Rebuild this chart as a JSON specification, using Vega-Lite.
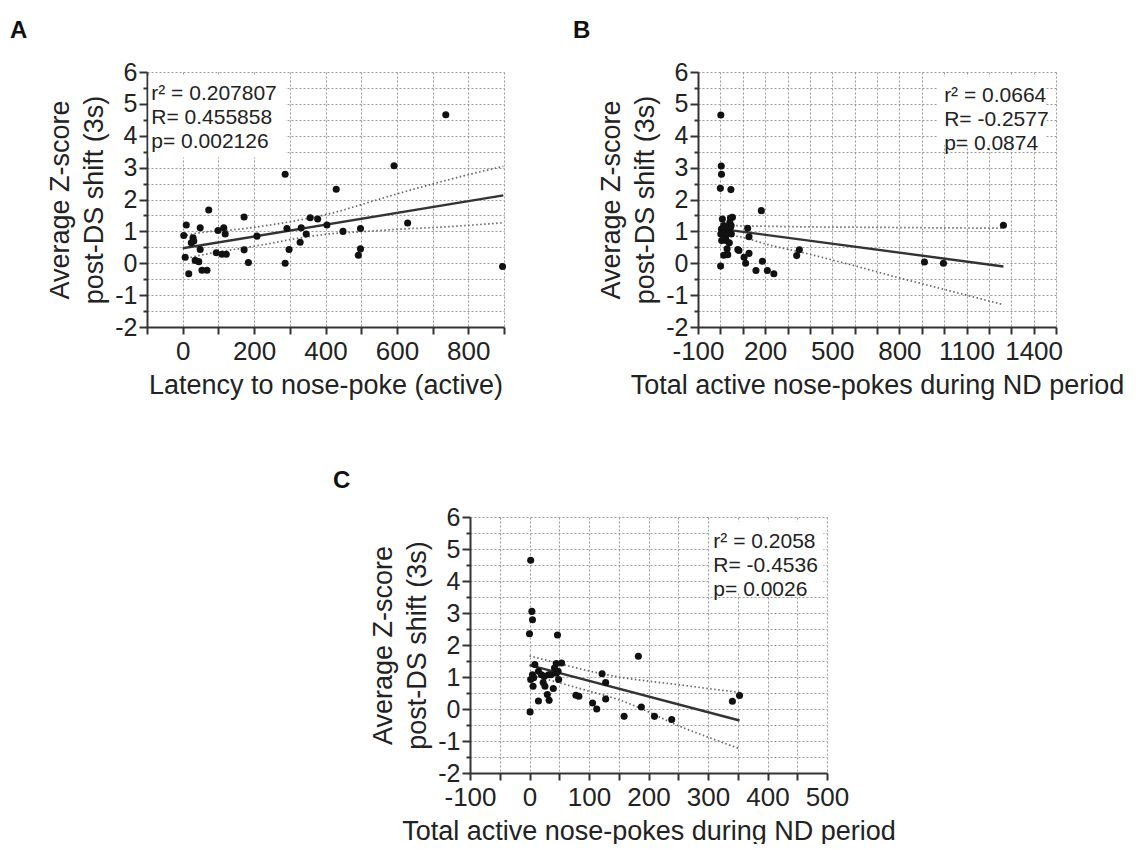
{
  "$schema": "https://vega.github.io/schema/vega-lite/v6.json",
  "padding": {"left": 10, "top": 19, "right": 0, "bottom": 0},
  "autosize": {"type": "pad"},
  "config": {
    "font": "Liberation Sans",
    "view": {"stroke": null},
    "axis": {"domainColor": "#333", "domainWidth": 2, "tickColor": "#333", "tickWidth": 2, "tickSize": 7, "labelFontSize": 26, "labelColor": "#222", "titleFontSize": 27, "titleFontWeight": "normal", "titleColor": "#222", "gridColor": "#999", "gridDash": [2, 2], "gridWidth": 1, "labelPadding": 4, "titlePadding": 8, "labelOverlap": false, "labelFlush": false},
    "axisY": {"labelFontSize": 25, "labelPadding": 2, "titleLineHeight": 34, "titlePadding": 6},
    "title": {"fontSize": 24, "fontWeight": "bold", "color": "#111", "anchor": "start", "frame": "group", "offset": 17}
  },
  "datasets": {
    "a_pts": [
      {"x": 287, "y": 2.79}, {"x": 73, "y": 1.67}, {"x": 172, "y": 1.45}, {"x": 357, "y": 1.43}, {"x": 378, "y": 1.39},
      {"x": 404, "y": 1.2}, {"x": 10, "y": 1.2}, {"x": 49, "y": 1.11}, {"x": 99, "y": 1.03}, {"x": 115, "y": 1.11},
      {"x": 119, "y": 0.92}, {"x": 292, "y": 1.09}, {"x": 332, "y": 1.11}, {"x": 346, "y": 0.92}, {"x": 208, "y": 0.85},
      {"x": 3, "y": 0.87}, {"x": 29, "y": 0.8}, {"x": 31, "y": 0.7}, {"x": 24, "y": 0.64}, {"x": 329, "y": 0.66},
      {"x": 49, "y": 0.43}, {"x": 172, "y": 0.42}, {"x": 298, "y": 0.43}, {"x": 94, "y": 0.33}, {"x": 110, "y": 0.28},
      {"x": 122, "y": 0.28}, {"x": 7, "y": 0.19}, {"x": 35, "y": 0.09}, {"x": 45, "y": 0.05}, {"x": 184, "y": 0.02},
      {"x": 287, "y": 0.0}, {"x": 54, "y": -0.22}, {"x": 68, "y": -0.22}, {"x": 17, "y": -0.33}, {"x": 430, "y": 2.32},
      {"x": 449, "y": 1.0}, {"x": 492, "y": 0.25}, {"x": 498, "y": 0.45}, {"x": 498, "y": 1.09}, {"x": 592, "y": 3.06},
      {"x": 630, "y": 1.26}, {"x": 737, "y": 4.66}, {"x": 896, "y": -0.1}
    ],
    "a_fit": [
      {"x": 0, "y": 0.47, "k": "fit"}, {"x": 898, "y": 2.13, "k": "fit"},
      {"x": 0, "y": 0.85, "k": "hi"}, {"x": 49, "y": 0.96, "k": "hi"}, {"x": 142, "y": 1.05, "k": "hi"}, {"x": 245, "y": 1.2, "k": "hi"}, {"x": 300, "y": 1.3, "k": "hi"}, {"x": 421, "y": 1.58, "k": "hi"}, {"x": 515, "y": 1.89, "k": "hi"}, {"x": 608, "y": 2.2, "k": "hi"}, {"x": 701, "y": 2.49, "k": "hi"}, {"x": 800, "y": 2.78, "k": "hi"}, {"x": 898, "y": 3.04, "k": "hi"},
      {"x": 0, "y": 0.12, "k": "lo"}, {"x": 49, "y": 0.25, "k": "lo"}, {"x": 142, "y": 0.43, "k": "lo"}, {"x": 245, "y": 0.62, "k": "lo"}, {"x": 300, "y": 0.74, "k": "lo"}, {"x": 421, "y": 0.93, "k": "lo"}, {"x": 515, "y": 1.0, "k": "lo"}, {"x": 608, "y": 1.07, "k": "lo"}, {"x": 701, "y": 1.12, "k": "lo"}, {"x": 800, "y": 1.19, "k": "lo"}, {"x": 898, "y": 1.27, "k": "lo"}
    ],
    "a_txt": [{"t": ["r² = 0.207807", "R= 0.455858", "p= 0.002126"]}],
    "b_pts": [
      {"x": 2, "y": 4.65}, {"x": 4, "y": 3.05}, {"x": 5, "y": 2.79}, {"x": 0, "y": 2.35}, {"x": 47, "y": 2.31},
      {"x": 9, "y": 1.39}, {"x": 45, "y": 1.42}, {"x": 54, "y": 1.44}, {"x": 42, "y": 1.28}, {"x": 2, "y": 0.92},
      {"x": 5, "y": 1.07}, {"x": 7, "y": 0.98}, {"x": 15, "y": 1.18}, {"x": 20, "y": 1.07}, {"x": 25, "y": 1.02},
      {"x": 32, "y": 1.07}, {"x": 36, "y": 1.07}, {"x": 45, "y": 1.12}, {"x": 48, "y": 1.18}, {"x": 49, "y": 0.92},
      {"x": 23, "y": 0.83}, {"x": 26, "y": 0.71}, {"x": 6, "y": 0.71}, {"x": 40, "y": 0.64}, {"x": 30, "y": 0.45},
      {"x": 33, "y": 0.27}, {"x": 15, "y": 0.25}, {"x": 1, "y": -0.09}, {"x": 78, "y": 0.43}, {"x": 83, "y": 0.4},
      {"x": 122, "y": 1.1}, {"x": 128, "y": 0.83}, {"x": 128, "y": 0.31}, {"x": 106, "y": 0.19}, {"x": 113, "y": 0.0},
      {"x": 183, "y": 1.65}, {"x": 159, "y": -0.23}, {"x": 188, "y": 0.06}, {"x": 210, "y": -0.23}, {"x": 239, "y": -0.33},
      {"x": 341, "y": 0.24}, {"x": 353, "y": 0.42}, {"x": 912, "y": 0.04}, {"x": 997, "y": 0.0}, {"x": 1265, "y": 1.19}
    ],
    "b_fit": [
      {"x": 0, "y": 1.08, "k": "fit"}, {"x": 1265, "y": -0.1, "k": "fit"},
      {"x": 0, "y": 1.25, "k": "hi"}, {"x": 100, "y": 1.17, "k": "hi"}, {"x": 200, "y": 1.16, "k": "hi"}, {"x": 400, "y": 1.14, "k": "hi"}, {"x": 600, "y": 1.13, "k": "hi"}, {"x": 800, "y": 1.12, "k": "hi"}, {"x": 1000, "y": 1.11, "k": "hi"}, {"x": 1265, "y": 1.1, "k": "hi"},
      {"x": 0, "y": 0.91, "k": "lo"}, {"x": 100, "y": 0.81, "k": "lo"}, {"x": 200, "y": 0.61, "k": "lo"}, {"x": 400, "y": 0.28, "k": "lo"}, {"x": 600, "y": -0.08, "k": "lo"}, {"x": 800, "y": -0.46, "k": "lo"}, {"x": 1000, "y": -0.82, "k": "lo"}, {"x": 1265, "y": -1.3, "k": "lo"}
    ],
    "b_txt": [{"t": ["r² = 0.0664", "R= -0.2577", "p= 0.0874"]}],
    "c_pts": [
      {"x": 2, "y": 4.65}, {"x": 4, "y": 3.05}, {"x": 5, "y": 2.79}, {"x": 0, "y": 2.35}, {"x": 47, "y": 2.31},
      {"x": 9, "y": 1.39}, {"x": 45, "y": 1.42}, {"x": 54, "y": 1.44}, {"x": 42, "y": 1.28}, {"x": 2, "y": 0.92},
      {"x": 5, "y": 1.07}, {"x": 7, "y": 0.98}, {"x": 15, "y": 1.18}, {"x": 20, "y": 1.07}, {"x": 25, "y": 1.02},
      {"x": 32, "y": 1.07}, {"x": 36, "y": 1.07}, {"x": 45, "y": 1.12}, {"x": 48, "y": 1.18}, {"x": 49, "y": 0.92},
      {"x": 23, "y": 0.83}, {"x": 26, "y": 0.71}, {"x": 6, "y": 0.71}, {"x": 40, "y": 0.64}, {"x": 30, "y": 0.45},
      {"x": 33, "y": 0.27}, {"x": 15, "y": 0.25}, {"x": 1, "y": -0.09}, {"x": 78, "y": 0.43}, {"x": 83, "y": 0.4},
      {"x": 122, "y": 1.1}, {"x": 128, "y": 0.83}, {"x": 128, "y": 0.31}, {"x": 106, "y": 0.19}, {"x": 113, "y": 0.0},
      {"x": 183, "y": 1.65}, {"x": 159, "y": -0.23}, {"x": 188, "y": 0.06}, {"x": 210, "y": -0.23}, {"x": 239, "y": -0.33},
      {"x": 341, "y": 0.24}, {"x": 353, "y": 0.42}
    ],
    "c_fit": [
      {"x": 0, "y": 1.37, "k": "fit"}, {"x": 353, "y": -0.36, "k": "fit"},
      {"x": 0, "y": 1.66, "k": "hi"}, {"x": 50, "y": 1.42, "k": "hi"}, {"x": 100, "y": 1.19, "k": "hi"}, {"x": 150, "y": 1.0, "k": "hi"}, {"x": 200, "y": 0.87, "k": "hi"}, {"x": 250, "y": 0.76, "k": "hi"}, {"x": 300, "y": 0.64, "k": "hi"}, {"x": 353, "y": 0.52, "k": "hi"},
      {"x": 0, "y": 1.08, "k": "lo"}, {"x": 50, "y": 0.82, "k": "lo"}, {"x": 100, "y": 0.56, "k": "lo"}, {"x": 150, "y": 0.29, "k": "lo"}, {"x": 200, "y": -0.09, "k": "lo"}, {"x": 250, "y": -0.52, "k": "lo"}, {"x": 300, "y": -0.88, "k": "lo"}, {"x": 353, "y": -1.24, "k": "lo"}
    ],
    "c_txt": [{"t": ["r² = 0.2058", "R= -0.4536", "p= 0.0026"]}]
  },
  "spacing": 71,
  "vconcat": [
    {
      "spacing": 64,
      "hconcat": [
        {
          "width": 357, "height": 255,
          "title": {"text": "A", "dx": -137},
          "layer": [
            {
              "encoding": {
                "x": {"field": "x", "type": "quantitative", "scale": {"domain": [-100, 900], "nice": false, "zero": false},
                      "axis": {"values": [-100, 0, 100, 200, 300, 400, 500, 600, 700, 800, 900], "labelExpr": "datum.value >= 0 && datum.value % 200 == 0 ? '' + datum.value : ''", "title": "Latency to nose-poke (active)"}},
                "y": {"field": "y", "type": "quantitative", "scale": {"domain": [-2, 6], "nice": false, "zero": false},
                      "axis": {"values": [-2, -1.5, -1, -0.5, 0, 0.5, 1, 1.5, 2, 2.5, 3, 3.5, 4, 4.5, 5, 5.5, 6], "labelExpr": "datum.value % 1 == 0 ? '' + datum.value : ''", "title": ["Average Z-score", "post-DS shift (3s)"], "tickSize": {"condition": {"test": "datum.value % 1 == 0", "value": 8}, "value": 4}}}
              },
              "layer": [
                {"data": {"name": "a_fit"}, "transform": [{"filter": "datum.k != 'fit'"}], "mark": {"type": "line", "color": "#666", "strokeWidth": 1.7, "strokeDash": [1.5, 2.5], "interpolate": "monotone"}, "encoding": {"detail": {"field": "k"}}},
                {"data": {"name": "a_fit"}, "transform": [{"filter": "datum.k == 'fit'"}], "mark": {"type": "line", "color": "#333", "strokeWidth": 2.4}},
                {"data": {"name": "a_pts"}, "mark": {"type": "circle", "size": 50, "color": "#111", "opacity": 1}}
              ]
            },
            {"data": {"name": "a_txt"}, "mark": {"type": "rect", "fill": "white"},
             "encoding": {
               "x": {"datum": -96, "type": "quantitative", "scale": {"domain": [-100, 900], "nice": false, "zero": false},
                     "axis": {"values": [-100, 0, 100, 200, 300, 400, 500, 600, 700, 800, 900], "labelExpr": "datum.value >= 0 && datum.value % 200 == 0 ? '' + datum.value : ''", "title": "Latency to nose-poke (active)"}},
               "x2": {"datum": 288},
               "y": {"datum": 5.88, "type": "quantitative", "scale": {"domain": [-2, 6], "nice": false, "zero": false},
                     "axis": {"values": [-2, -1.5, -1, -0.5, 0, 0.5, 1, 1.5, 2, 2.5, 3, 3.5, 4, 4.5, 5, 5.5, 6], "labelExpr": "datum.value % 1 == 0 ? '' + datum.value : ''", "title": ["Average Z-score", "post-DS shift (3s)"], "tickSize": {"condition": {"test": "datum.value % 1 == 0", "value": 8}, "value": 4}}},
               "y2": {"datum": 3.32}}},
            {"data": {"name": "a_txt"}, "mark": {"type": "text", "align": "left", "baseline": "top", "fontSize": 21, "lineHeight": 24, "color": "#222"},
             "encoding": {
               "x": {"datum": -88, "type": "quantitative", "scale": {"domain": [-100, 900], "nice": false, "zero": false},
                     "axis": {"values": [-100, 0, 100, 200, 300, 400, 500, 600, 700, 800, 900], "labelExpr": "datum.value >= 0 && datum.value % 200 == 0 ? '' + datum.value : ''", "title": "Latency to nose-poke (active)"}},
               "y": {"datum": 5.67, "type": "quantitative", "scale": {"domain": [-2, 6], "nice": false, "zero": false},
                     "axis": {"values": [-2, -1.5, -1, -0.5, 0, 0.5, 1, 1.5, 2, 2.5, 3, 3.5, 4, 4.5, 5, 5.5, 6], "labelExpr": "datum.value % 1 == 0 ? '' + datum.value : ''", "title": ["Average Z-score", "post-DS shift (3s)"], "tickSize": {"condition": {"test": "datum.value % 1 == 0", "value": 8}, "value": 4}}},
               "text": {"field": "t", "type": "nominal"}}}
          ]
        },
        {
          "width": 358, "height": 255,
          "title": {"text": "B", "dx": -125},
          "layer": [
            {
              "encoding": {
                "x": {"field": "x", "type": "quantitative", "scale": {"domain": [-100, 1500], "nice": false, "zero": false},
                      "axis": {"values": [-100, 0, 100, 200, 300, 400, 500, 600, 700, 800, 900, 1000, 1100, 1200, 1300, 1400, 1500], "labelExpr": "(datum.value + 100) % 300 == 0 && datum.value < 1500 ? '' + datum.value : ''", "title": "Total active nose-pokes during ND period"}},
                "y": {"field": "y", "type": "quantitative", "scale": {"domain": [-2, 6], "nice": false, "zero": false},
                      "axis": {"values": [-2, -1.5, -1, -0.5, 0, 0.5, 1, 1.5, 2, 2.5, 3, 3.5, 4, 4.5, 5, 5.5, 6], "labelExpr": "datum.value % 1 == 0 ? '' + datum.value : ''", "title": ["Average Z-score", "post-DS shift (3s)"], "tickSize": {"condition": {"test": "datum.value % 1 == 0", "value": 8}, "value": 4}}}
              },
              "layer": [
                {"data": {"name": "b_fit"}, "transform": [{"filter": "datum.k != 'fit'"}], "mark": {"type": "line", "color": "#666", "strokeWidth": 1.7, "strokeDash": [1.5, 2.5], "interpolate": "monotone"}, "encoding": {"detail": {"field": "k"}}},
                {"data": {"name": "b_fit"}, "transform": [{"filter": "datum.k == 'fit'"}], "mark": {"type": "line", "color": "#333", "strokeWidth": 2.4}},
                {"data": {"name": "b_pts"}, "mark": {"type": "circle", "size": 50, "color": "#111", "opacity": 1}}
              ]
            },
            {"data": {"name": "b_txt"}, "mark": {"type": "rect", "fill": "white"},
             "encoding": {
               "x": {"datum": 968, "type": "quantitative", "scale": {"domain": [-100, 1500], "nice": false, "zero": false},
                     "axis": {"values": [-100, 0, 100, 200, 300, 400, 500, 600, 700, 800, 900, 1000, 1100, 1200, 1300, 1400, 1500], "labelExpr": "(datum.value + 100) % 300 == 0 && datum.value < 1500 ? '' + datum.value : ''", "title": "Total active nose-pokes during ND period"}},
               "x2": {"datum": 1450},
               "y": {"datum": 5.85, "type": "quantitative", "scale": {"domain": [-2, 6], "nice": false, "zero": false},
                     "axis": {"values": [-2, -1.5, -1, -0.5, 0, 0.5, 1, 1.5, 2, 2.5, 3, 3.5, 4, 4.5, 5, 5.5, 6], "labelExpr": "datum.value % 1 == 0 ? '' + datum.value : ''", "title": ["Average Z-score", "post-DS shift (3s)"], "tickSize": {"condition": {"test": "datum.value % 1 == 0", "value": 8}, "value": 4}}},
               "y2": {"datum": 3.7}}},
            {"data": {"name": "b_txt"}, "mark": {"type": "text", "align": "left", "baseline": "top", "fontSize": 21, "lineHeight": 24, "color": "#222"},
             "encoding": {
               "x": {"datum": 1000, "type": "quantitative", "scale": {"domain": [-100, 1500], "nice": false, "zero": false},
                     "axis": {"values": [-100, 0, 100, 200, 300, 400, 500, 600, 700, 800, 900, 1000, 1100, 1200, 1300, 1400, 1500], "labelExpr": "(datum.value + 100) % 300 == 0 && datum.value < 1500 ? '' + datum.value : ''", "title": "Total active nose-pokes during ND period"}},
               "y": {"datum": 5.6, "type": "quantitative", "scale": {"domain": [-2, 6], "nice": false, "zero": false},
                     "axis": {"values": [-2, -1.5, -1, -0.5, 0, 0.5, 1, 1.5, 2, 2.5, 3, 3.5, 4, 4.5, 5, 5.5, 6], "labelExpr": "datum.value % 1 == 0 ? '' + datum.value : ''", "title": ["Average Z-score", "post-DS shift (3s)"], "tickSize": {"condition": {"test": "datum.value % 1 == 0", "value": 8}, "value": 4}}},
               "text": {"field": "t", "type": "nominal"}}}
          ]
        }
      ]
    },
    {
      "spacing": 0,
      "hconcat": [
        {"width": 186, "height": 10, "data": {"values": []}, "mark": "point", "view": {"fill": "white", "stroke": null}},
        {
          "width": 357, "height": 256,
          "title": {"text": "C", "dx": -137, "offset": 12},
          "layer": [
            {
              "encoding": {
                "x": {"field": "x", "type": "quantitative", "scale": {"domain": [-100, 500], "nice": false, "zero": false},
                      "axis": {"values": [-100, -50, 0, 50, 100, 150, 200, 250, 300, 350, 400, 450, 500], "labelExpr": "datum.value % 100 == 0 ? '' + datum.value : ''", "title": "Total active nose-pokes during ND period"}},
                "y": {"field": "y", "type": "quantitative", "scale": {"domain": [-2, 6], "nice": false, "zero": false},
                      "axis": {"values": [-2, -1.5, -1, -0.5, 0, 0.5, 1, 1.5, 2, 2.5, 3, 3.5, 4, 4.5, 5, 5.5, 6], "labelExpr": "datum.value % 1 == 0 ? '' + datum.value : ''", "title": ["Average Z-score", "post-DS shift (3s)"], "tickSize": {"condition": {"test": "datum.value % 1 == 0", "value": 8}, "value": 4}}}
              },
              "layer": [
                {"data": {"name": "c_fit"}, "transform": [{"filter": "datum.k != 'fit'"}], "mark": {"type": "line", "color": "#666", "strokeWidth": 1.7, "strokeDash": [1.5, 2.5], "interpolate": "monotone"}, "encoding": {"detail": {"field": "k"}}},
                {"data": {"name": "c_fit"}, "transform": [{"filter": "datum.k == 'fit'"}], "mark": {"type": "line", "color": "#333", "strokeWidth": 2.4}},
                {"data": {"name": "c_pts"}, "mark": {"type": "circle", "size": 50, "color": "#111", "opacity": 1}}
              ]
            },
            {"data": {"name": "c_txt"}, "mark": {"type": "rect", "fill": "white"},
             "encoding": {
               "x": {"datum": 303, "type": "quantitative", "scale": {"domain": [-100, 500], "nice": false, "zero": false},
                     "axis": {"values": [-100, -50, 0, 50, 100, 150, 200, 250, 300, 350, 400, 450, 500], "labelExpr": "datum.value % 100 == 0 ? '' + datum.value : ''", "title": "Total active nose-pokes during ND period"}},
               "x2": {"datum": 494},
               "y": {"datum": 5.85, "type": "quantitative", "scale": {"domain": [-2, 6], "nice": false, "zero": false},
                     "axis": {"values": [-2, -1.5, -1, -0.5, 0, 0.5, 1, 1.5, 2, 2.5, 3, 3.5, 4, 4.5, 5, 5.5, 6], "labelExpr": "datum.value % 1 == 0 ? '' + datum.value : ''", "title": ["Average Z-score", "post-DS shift (3s)"], "tickSize": {"condition": {"test": "datum.value % 1 == 0", "value": 8}, "value": 4}}},
               "y2": {"datum": 3.62}}},
            {"data": {"name": "c_txt"}, "mark": {"type": "text", "align": "left", "baseline": "top", "fontSize": 21, "lineHeight": 24, "color": "#222"},
             "encoding": {
               "x": {"datum": 309, "type": "quantitative", "scale": {"domain": [-100, 500], "nice": false, "zero": false},
                     "axis": {"values": [-100, -50, 0, 50, 100, 150, 200, 250, 300, 350, 400, 450, 500], "labelExpr": "datum.value % 100 == 0 ? '' + datum.value : ''", "title": "Total active nose-pokes during ND period"}},
               "y": {"datum": 5.57, "type": "quantitative", "scale": {"domain": [-2, 6], "nice": false, "zero": false},
                     "axis": {"values": [-2, -1.5, -1, -0.5, 0, 0.5, 1, 1.5, 2, 2.5, 3, 3.5, 4, 4.5, 5, 5.5, 6], "labelExpr": "datum.value % 1 == 0 ? '' + datum.value : ''", "title": ["Average Z-score", "post-DS shift (3s)"], "tickSize": {"condition": {"test": "datum.value % 1 == 0", "value": 8}, "value": 4}}},
               "text": {"field": "t", "type": "nominal"}}}
          ]
        }
      ]
    }
  ]
}
